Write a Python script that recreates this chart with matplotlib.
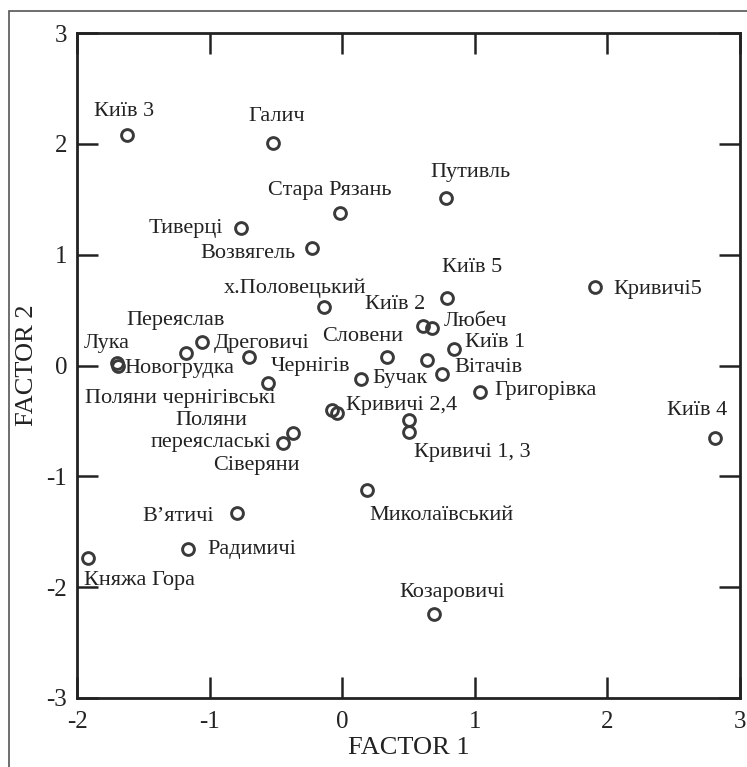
import matplotlib
matplotlib.use("Agg")
import matplotlib.pyplot as plt
from matplotlib.patches import Rectangle

plt.rcParams['font.family'] = ['Liberation Serif', 'DejaVu Serif']

# site names and factor scores
names = ['Київ 3', 'Галич', 'Стара Рязань', 'Путивль', 'Тиверці', 'Возвягель',
         'х.Половецький', 'Київ 5', 'Кривичі5', 'Київ 2', 'Любеч', 'Київ 1',
         'Словени', '', 'Вітачів', 'Бучак', 'Григорівка', 'Київ 4',
         '', 'Кривичі 2,4', '', 'Кривичі 1, 3', 'Миколаївський', 'Козаровичі',
         'В\u2019ятичі', 'Радимичі', 'Княжа Гора', 'Лука', 'Новогрудка',
         'Переяслав', 'Дреговичі', 'Чернігів', 'Поляни чернігівські',
         'Поляни\nпереяслаські', 'Сіверяни']
factor1 = [-1.62, -0.52, -0.02, 0.78, -0.76, -0.23,
           -0.14, 0.79, 1.91, 0.61, 0.68, 0.84,
           0.34, 0.64, 0.75, 0.14, 1.04, 2.81,
           -0.08, -0.04, 0.50, 0.50, 0.19, 0.69,
           -0.79, -1.16, -1.92, -1.70, -1.69,
           -1.18, -1.06, -0.70, -0.56,
           -0.37, -0.45]
factor2 = [2.08, 2.01, 1.38, 1.51, 1.24, 1.06,
           0.53, 0.61, 0.71, 0.36, 0.34, 0.15,
           0.08, 0.05, -0.08, -0.12, -0.24, -0.65,
           -0.40, -0.43, -0.49, -0.60, -1.12, -2.24,
           -1.33, -1.66, -1.74, 0.02, 0.00,
           0.11, 0.21, 0.08, -0.16,
           -0.61, -0.70]

# label offsets from the marker, in pixels
label_dx = [-3, 3, -10, 25, -56, -64,
            -29, 25, 62, -28, 43, 42,
            -25, 0, 47, 39, 65, -18,
            0, 65, 0, 64, 74, 18,
            -59, 63, 52, -10, 61,
            -10, 60, 61, -88,
            -82, -26]
label_dy = [23, 26, 22, 26, 0, -5,
            19, 30, -3, 21, 6, 6,
            20, 0, 7, 0, 2, 27,
            0, 8, 0, -20, -26, 21,
            -4, 0, -22, 20, -3,
            33, -1, -10, -15,
            2, -22]

dark = '#222222'

fig = plt.figure(figsize=(7.47, 7.67), dpi=100)
fig.patches.append(Rectangle((9 / 747, -0.1), 2, 1 - 11 / 767 + 0.1,
                             transform=fig.transFigure, fill=False,
                             edgecolor='#555555', linewidth=1.2))
ax = fig.add_axes([77 / 747, 69 / 767, 663 / 747, 665 / 767])

ax.plot(factor1, factor2, 'o', ms=8.5, mfc='none', mec='#3a3a3a', mew=2.1)

for name, x, y, dx, dy in zip(names, factor1, factor2, label_dx, label_dy):
    if name:
        ax.annotate(name, (x, y), xytext=(dx, dy), textcoords='offset pixels',
                    ha='center', va='center', fontsize=16, color=dark,
                    linespacing=1.2)

ax.set_xlim(-2, 3)
ax.set_ylim(-3, 3)
ax.set_xticks([-2, -1, 0, 1, 2, 3])
ax.set_yticks([-3, -2, -1, 0, 1, 2, 3])
ax.set_xticklabels(['-2', '-1', '0', '1', '2', '3'])
ax.set_yticklabels(['-3', '-2', '-1', '0', '1', '2', '3'])
ax.tick_params(direction='in', length=15, width=1.8, color=dark,
               top=True, right=True, labelsize=18, labelcolor=dark)
ax.tick_params(axis='y', pad=7)
ax.tick_params(axis='x', pad=9)
for sp in ax.spines.values():
    sp.set_linewidth(2)
    sp.set_color(dark)

ax.set_xlabel('FACTOR 1', fontsize=19, color=dark, labelpad=3)
ax.set_ylabel('FACTOR 2', fontsize=19, color=dark, labelpad=6)

fig.savefig('out.png', dpi=100)
